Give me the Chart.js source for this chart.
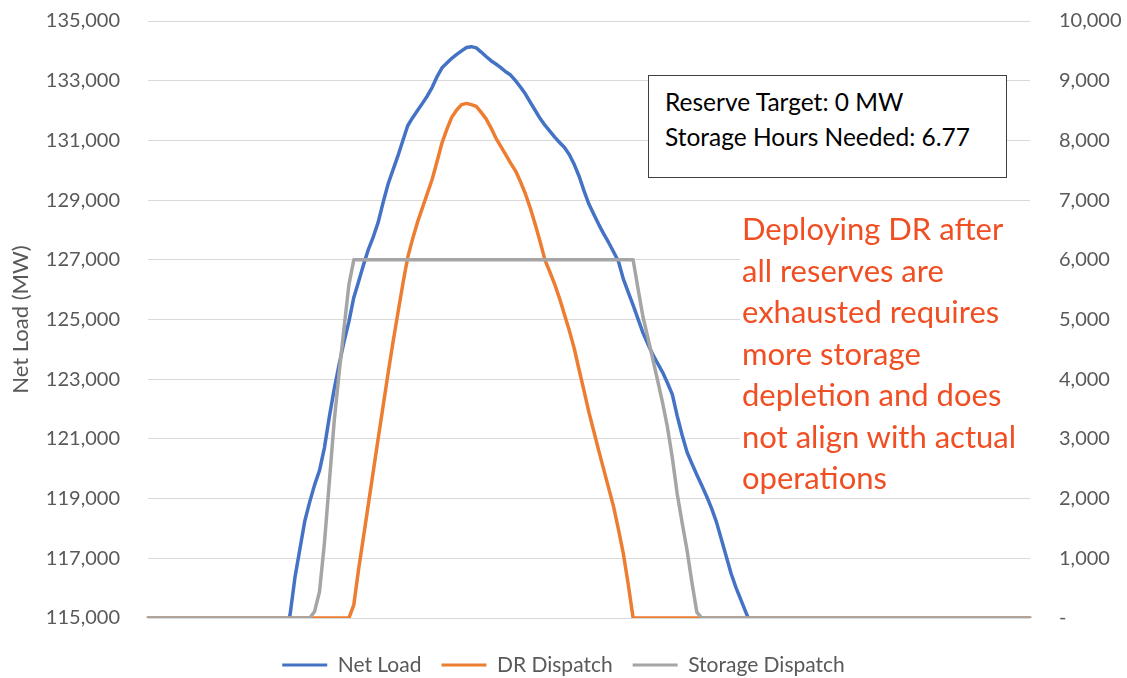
<!DOCTYPE html>
<html>
<head>
<meta charset="utf-8">
<script src="https://cdn.jsdelivr.net/npm/chart.js@4.4.1/dist/chart.umd.min.js"></script>
<style>
html,body{margin:0;padding:0;background:#fff;}
#wrap{position:relative;width:1127px;height:678px;overflow:hidden;}
#c{position:absolute;left:0;top:0;}
.note{position:absolute;left:648px;top:75px;width:359px;height:103px;box-sizing:border-box;border:1.5px solid #404040;background:#fff;
  font-family:Lato,"Open Sans",sans-serif;font-size:24.5px;line-height:35px;color:#000;padding:8px 0 0 16px;z-index:2;white-space:nowrap;}
.red{position:absolute;left:740px;top:208px;width:295px;height:287px;box-sizing:border-box;background:#fff;color:#F04E23;
  font-family:Lato,"Open Sans",sans-serif;font-size:31px;line-height:41.5px;padding-left:2px;z-index:2;white-space:nowrap;}
</style>
</head>
<body>
<div id="wrap">
<canvas id="c" width="1127" height="678"></canvas>
<div class="note">Reserve Target: 0 MW<br>Storage Hours Needed: 6.77</div>
<div class="red">Deploying DR after<br>all reserves are<br>exhausted requires<br>more storage<br>depletion and does<br>not align with actual<br>operations</div>
</div>
<script>
// ---- categories (time intervals) ----
const intervals = [
  1,2,3,4,5,6,7,8,9,10,
  11,12,13,14,15,16,17,18,19,20,
  21,22,23,24,25,26,27,28,29,30,
  31,32,33,34,35,36,37,38,39,40,
  41,42,43,44,45,46,47,48,49,50,
  51,52,53,54,55,56,57,58,59,60,
  61,62,63,64,65,66,67,68,69,70,
  71,72,73,74,75,76,77,78,79,80,
  81,82,83,84,85,86,87,88,89,90,
  91,92,93,94,95,96,97,98,99,100,
  101,102,103,104,105,106,107,108,109,110,
  111,112,113,114,115,116,117,118,119,120,
  121,122,123,124,125,126,127,128,129,130,
  131,132,133,134,135,136,137,138,139,140,
  141,142,143,144,145,146,147,148,149,150,
  151,152,153,154,155,156,157,158,159,160,
  161,162,163,164,165,166,167,168,169,170,
  171,172,173,174,175,176,177,178,179,180,
  181
];

// ---- Net Load (MW), left axis; below 115,000 is off-scale ----
const netLoad = [
  null,null,null,null,null,null,null,null,null,null,
  null,null,null,null,null,null,null,null,null,null,
  null,null,null,null,null,null,null,null,114300,115120,
  116370,117310,118250,118890,119460,119940,120700,121730,122670,123490,
  124250,124930,125740,126280,126840,127360,127780,128270,128930,129540,
  130010,130480,130990,131490,131760,132000,132240,132490,132780,133140,
  133430,133590,133750,133880,134000,134110,134140,134100,133960,133810,
  133670,133560,133440,133300,133190,133000,132790,132560,132280,132010,
  131740,131510,131310,131110,130930,130760,130520,130190,129790,129300,
  128860,128520,128180,127870,127580,127270,126950,126360,125920,125480,
  125020,124560,124190,123830,123530,123240,122880,122490,121770,121130,
  120560,120170,119800,119450,119080,118680,118220,117650,117070,116490,
  116020,115610,115200,114800,null,null,null,null,null,null,
  null,null,null,null,null,null,null,null,null,null,
  null,null,null,null,null,null,null,null,null,null,
  null,null,null,null,null,null,null,null,null,null,
  null,null,null,null,null,null,null,null,null,null,
  null,null,null,null,null,null,null,null,null,null,
  null
];

// ---- DR Dispatch (MW), right axis ----
const drDispatch = [
  0,0,0,0,0,0,0,0,0,0,
  0,0,0,0,0,0,0,0,0,0,
  0,0,0,0,0,0,0,0,0,0,
  0,0,0,0,0,0,0,0,0,0,
  0,0,220,830,1370,1920,2470,3020,3560,4100,
  4620,5110,5590,6040,6350,6630,6870,7110,7350,7650,
  7960,8190,8390,8510,8600,8620,8600,8570,8470,8360,
  8210,8040,7900,7760,7620,7490,7310,7110,6870,6600,
  6310,6000,5800,5590,5350,5080,4810,4510,4150,3800,
  3440,3120,2800,2490,2180,1870,1490,1080,570,0,
  0,0,0,0,0,0,0,0,0,0,
  0,0,0,0,0,0,0,0,0,0,
  0,0,0,0,0,0,0,0,0,0,
  0,0,0,0,0,0,0,0,0,0,
  0,0,0,0,0,0,0,0,0,0,
  0,0,0,0,0,0,0,0,0,0,
  0,0,0,0,0,0,0,0,0,0,
  0,0,0,0,0,0,0,0,0,0,
  0
];

// ---- Storage Dispatch (MW), right axis ----
const storageDispatch = [
  0,0,0,0,0,0,0,0,0,0,
  0,0,0,0,0,0,0,0,0,0,
  0,0,0,0,0,0,0,0,0,0,
  0,0,0,0,110,440,1250,2270,3300,4100,
  4850,5580,6000,6000,6000,6000,6000,6000,6000,6000,
  6000,6000,6000,6000,6000,6000,6000,6000,6000,6000,
  6000,6000,6000,6000,6000,6000,6000,6000,6000,6000,
  6000,6000,6000,6000,6000,6000,6000,6000,6000,6000,
  6000,6000,6000,6000,6000,6000,6000,6000,6000,6000,
  6000,6000,6000,6000,6000,6000,6000,6000,6000,6000,
  5520,5050,4700,4340,3980,3610,3200,2690,2080,1600,
  1140,600,100,0,0,0,0,0,0,0,
  0,0,0,0,0,0,0,0,0,0,
  0,0,0,0,0,0,0,0,0,0,
  0,0,0,0,0,0,0,0,0,0,
  0,0,0,0,0,0,0,0,0,0,
  0,0,0,0,0,0,0,0,0,0,
  0,0,0,0,0,0,0,0,0,0,
  0
];

// ---- axis settings ----
const leftTicks = {min: 115000, max: 135000, step: 2000};
const rightTicks = {min: 0, max: 10000, step: 1000};
const seriesNames = ['Net Load', 'DR Dispatch', 'Storage Dispatch'];
const seriesColors = ['#4472C4', '#ED7D31', '#A5A5A5'];

const FONT = 'Lato, "Open Sans", sans-serif';
const TICK_COLOR = '#595959';
const LEGEND_FONT = 21;
const LEGEND_PAD = 20;
const fmt = v => v.toLocaleString('en-US');

function ds(label, data, color, axis, order) {
  return {
    label, data, yAxisID: axis, order,
    borderColor: color, backgroundColor: color,
    borderWidth: 3.5, pointRadius: 0, pointHoverRadius: 0,
    tension: 0, fill: false, borderJoinStyle: 'round', borderCapStyle: 'round'
  };
}

// nudge the legend band so its text row sits at y = 665
const legendShift = {
  id: 'legendShift',
  afterLayout(chart) {
    const lg = chart.legend;
    if (!lg || !isFinite(lg.top)) return;
    const dy = 665 - (lg.top + LEGEND_PAD + LEGEND_FONT / 2);
    if (!isFinite(dy)) return;
    lg.top += dy; lg.bottom += dy;
    if (Array.isArray(lg.legendHitBoxes)) lg.legendHitBoxes.forEach(h => { h.top += dy; });
  }
};

new Chart(document.getElementById('c'), {
  type: 'line',
  data: {
    labels: intervals,
    datasets: [
      ds(seriesNames[0], netLoad, seriesColors[0], 'yL', 3),
      ds(seriesNames[1], drDispatch, seriesColors[1], 'yR', 2),
      ds(seriesNames[2], storageDispatch, seriesColors[2], 'yR', 1)
    ]
  },
  plugins: [legendShift],
  options: {
    responsive: false,
    animation: false,
    devicePixelRatio: 1,
    layout: {padding: {top: 21, bottom: 0, left: 0, right: 0}},
    plugins: {
      tooltip: {enabled: false},
      legend: {
        position: 'bottom',
        labels: {
          font: {family: FONT, size: LEGEND_FONT},
          color: TICK_COLOR,
          boxWidth: 45, boxHeight: 3, padding: LEGEND_PAD,
          sort: (a, b) => a.datasetIndex - b.datasetIndex,
          generateLabels: chart => Chart.defaults.plugins.legend.labels.generateLabels(chart)
            .map(it => Object.assign(it, {lineWidth: 0}))
        }
      }
    },
    scales: {
      x: {
        type: 'category', offset: false,
        ticks: {display: false}, grid: {display: false, drawTicks: false},
        border: {display: false},
        afterFit: s => { s.height = 9; }
      },
      yL: {
        position: 'left', min: leftTicks.min, max: leftTicks.max,
        ticks: {stepSize: leftTicks.step, padding: 28, color: TICK_COLOR,
                font: {family: FONT, size: 20}, callback: v => fmt(v)},
        grid: {color: '#D9D9D9', lineWidth: 1, drawTicks: false},
        border: {display: false},
        title: {display: true, text: 'Net Load (MW)', color: TICK_COLOR,
                font: {family: FONT, size: 22}, padding: {top: 8, bottom: 0}},
        afterFit: s => { s.width = 148; s.paddingTop = 0; s.paddingBottom = 0; }
      },
      yR: {
        position: 'right', min: rightTicks.min, max: rightTicks.max,
        ticks: {stepSize: rightTicks.step, padding: 29, color: TICK_COLOR,
                font: {family: FONT, size: 20}, callback: v => v === 0 ? '-' : fmt(v)},
        grid: {display: false, drawTicks: false},
        border: {display: false},
        afterFit: s => { s.width = 97; s.paddingTop = 0; s.paddingBottom = 0; }
      }
    }
  }
});
</script>
</body>
</html>
